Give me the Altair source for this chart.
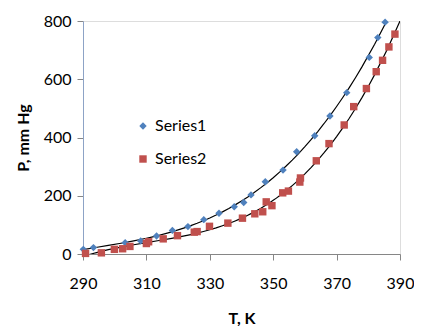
import altair as alt
import pandas as pd

# Series1 (blue diamonds)
t1 = [290.1, 293.3, 303.3, 308.2, 313.2, 318.2, 323.1, 328.1, 332.9, 337.7,
      340.7, 343.0, 347.5, 353.1, 357.4, 363.1, 367.9, 373.2, 380.3, 383.0, 385.3]
p1 = [16, 22, 39, 45, 62, 81, 94, 118, 140, 162,
      177, 203, 248, 288, 351, 406, 474, 554, 675, 743, 796]

# Series2 (red squares)
t2 = [290.8, 295.8, 299.9, 302.5, 304.8, 310.0, 310.7, 315.3, 319.8, 325.1,
      326.0, 329.9, 335.7, 340.3, 344.2, 346.7, 347.8, 349.6, 353.0, 354.8,
      358.4, 358.6, 363.6, 367.6, 372.4, 375.4, 379.4, 382.5, 384.5, 386.5, 388.4]
p2 = [2, 4, 16, 18, 26, 36, 42, 52, 63, 75,
      77, 95, 106, 123, 138, 145, 179, 166, 210, 216,
      247, 261, 320, 379, 443, 506, 568, 626, 665, 711, 755]

x_ticks = [290, 310, 330, 350, 370, 390]
y_ticks = [0, 200, 400, 600, 800]
series_names = ["Series1", "Series2"]

df = pd.DataFrame({
    "T": t1 + t2,
    "P": p1 + p2,
    "series": [series_names[0]] * len(t1) + [series_names[1]] * len(t2),
})

FONT = "Lato"

x_enc = alt.X(
    "T:Q",
    scale=alt.Scale(domain=[290, 390], nice=False, zero=False),
    axis=alt.Axis(
        values=x_ticks, title="T, K", grid=False, labelFlush=False,
        domainColor="#868686", tickColor="#868686", tickSize=6,
        labelFontSize=16, labelFont=FONT, labelColor="#000000", labelPadding=15,
        titleFontSize=16, titleFont=FONT, titleFontWeight="bold", titleColor="#000000",
        titlePadding=19,
    ),
)
y_enc = alt.Y(
    "P:Q",
    scale=alt.Scale(domain=[0, 800], nice=False),
    axis=alt.Axis(
        values=y_ticks, title="P, mm Hg", grid=False, labelFlush=False,
        domainColor="#8DA3C6", tickColor="#868686", tickSize=6,
        labelFontSize=16, labelFont=FONT, labelColor="#000000", labelPadding=6,
        titleFontSize=16, titleFont=FONT, titleFontWeight="bold", titleColor="#000000",
        titlePadding=12,
    ),
)

legend = alt.Legend(
    title=None, orient="none", legendX=52, legendY=97,
    labelFont=FONT, labelFontSize=16, labelColor="#000000",
    symbolSize=55, rowPadding=17, labelOffset=4, padding=0,
    symbolStrokeWidth=0,
)

points = alt.Chart(df).mark_point(filled=True, opacity=1, size=55).encode(
    x=x_enc,
    y=y_enc,
    color=alt.Color("series:N", scale=alt.Scale(domain=series_names, range=["#4F81BD", "#C0504D"]), legend=legend),
    shape=alt.Shape("series:N", scale=alt.Scale(domain=series_names, range=["diamond", "square"]), legend=legend),
)

lines = alt.Chart(df).transform_regression(
    "T", "P", method="poly", order=3, groupby=["series"], extent=[290, 390]
).mark_line(color="#000000", strokeWidth=1.2, clip=True).encode(
    x="T:Q", y="P:Q", detail="series:N"
)

chart = alt.layer(lines, points).properties(
    width=317, height=233,
    autosize=alt.AutoSizeParams(type="none"),
    padding={"left": 75, "top": 13, "right": 14, "bottom": 72},
).configure_view(
    stroke="#4F81BD", strokeWidth=1.2
).configure(background="#FFFFFF")

chart.save("out.html", embed_options={"renderer": "svg", "actions": False})
